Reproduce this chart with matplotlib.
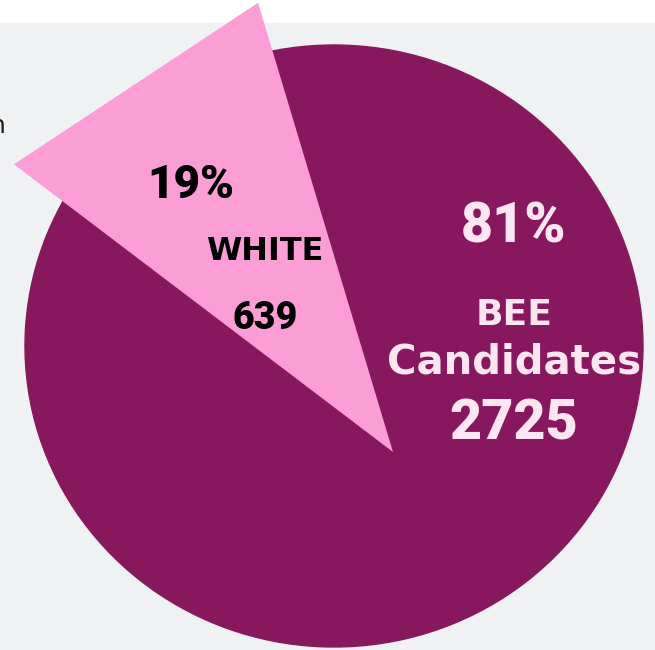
import numpy as np
import matplotlib
matplotlib.use("Agg")
import matplotlib.pyplot as plt
from matplotlib.patches import Rectangle, Polygon

# data
groups = ["WHITE", "BEE\nCandidates"]
counts = [639, 2725]

MAROON = "#88185e"
PINK = "#fb9ed5"
LIGHT = "#fde6f0"
GRAY = "#f0f1f3"

# layout (pixels of the 655x650 picture)
W, H = 655, 650
CX, CY = 334, 346      # pie centre
RX, RY = 309, 301      # pie radius in x / y


def px(x, y):
    # picture pixel -> data coords of the pie axes
    return (x - CX) / RX, (CY - y) / RY


fig = plt.figure(figsize=(W / 100, H / 100), dpi=100)
fig.patch.set_facecolor("white")
fig.add_artist(Rectangle((0, 0), 1, (H - 23) / H, transform=fig.transFigure,
                         color=GRAY, zorder=-1))

ax = fig.add_axes([0, 0, 1, 1])
ax.set_axis_off()

# whole disk is maroon, small slice gets pulled out as a pink triangle below
wedges, _ = ax.pie(counts, colors=[MAROON, MAROON], startangle=90,
                   counterclock=True, radius=1,
                   wedgeprops=dict(linewidth=1.0, edgecolor=MAROON))
ax.set_aspect("auto")
ax.set_xlim(px(0, 0)[0], px(W, 0)[0])
ax.set_ylim(px(0, H)[1], px(0, 0)[1])

# pink slice: triangle along the slice's mid angle
w = wedges[0]
mid = np.radians((w.theta1 + w.theta2) / 2)
half = np.radians((w.theta2 - w.theta1) / 2) * 0.523
apex = np.array(px(393, 452))
length = 1.555
tri = [apex,
       apex + length * np.array([np.cos(mid - half), np.sin(mid - half)]),
       apex + length * np.array([np.cos(mid + half), np.sin(mid + half)])]
ax.add_patch(Polygon(tri, closed=True, facecolor=PINK, edgecolor="none",
                     zorder=3, clip_on=False))

total = sum(counts)
pcts = [round(100 * c / total) for c in counts]

word_font = "DejaVu Sans"
num_font = "Roboto"

# small slice labels
ax.text(*px(191, 185), f"{pcts[0]}%", ha="center", va="center", fontsize=33,
        fontweight="black", family=num_font, color="black", zorder=5)
ax.text(*px(265, 251), groups[0], ha="center", va="center", fontsize=23,
        fontweight="bold", family=word_font, color="black", zorder=5)
ax.text(*px(265, 318), f"{counts[0]}", ha="center", va="center", fontsize=27,
        fontweight="black", family=num_font, color="black", zorder=5)

# big slice labels
bee, cand = groups[1].split("\n")
ax.text(*px(514, 227), f"{pcts[1]}%", ha="center", va="center", fontsize=40,
        fontweight="black", family=num_font, color=LIGHT, zorder=5)
ax.text(*px(514, 315), bee, ha="center", va="center", fontsize=26,
        fontweight="bold", family=word_font, color=LIGHT, zorder=5)
ax.text(*px(514, 362), cand, ha="center", va="center", fontsize=29,
        fontweight="bold", family=word_font, color=LIGHT, zorder=5)
ax.text(*px(514, 424), f"{counts[1]}", ha="center", va="center", fontsize=40,
        fontweight="black", family=num_font, color=LIGHT, zorder=5)

# cut-off text at the left edge of the panel
ax.text(*px(6, 126), "n", ha="right", va="center", fontsize=18,
        family=word_font, color="#1b1b1b", zorder=5)

plt.savefig("out.png", dpi=100, facecolor=fig.get_facecolor())
